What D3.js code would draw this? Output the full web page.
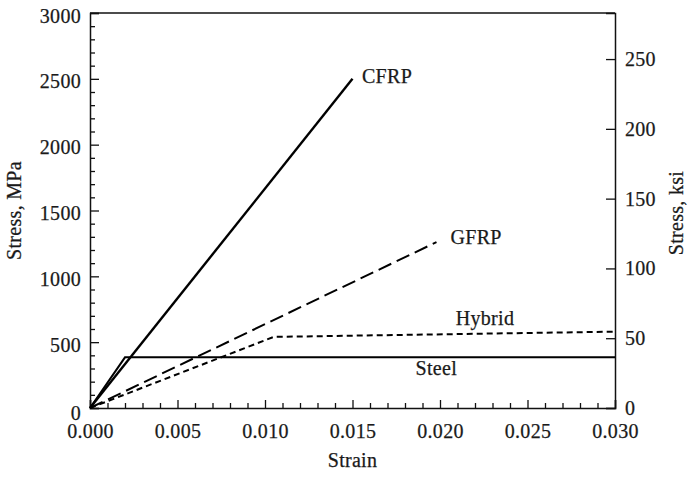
<!DOCTYPE html>
<html>
<head>
<meta charset="utf-8">
<script src="https://cdn.jsdelivr.net/npm/d3@7"></script>
<style>
  html, body { margin: 0; padding: 0; background: #fff; }
  svg { display: block; }
  text { font-family: "Liberation Serif", "DejaVu Serif", serif; fill: #1a1a1a; stroke: #1a1a1a; stroke-width: 0.25px; letter-spacing: 0.3px; }
</style>
</head>
<body>
<svg id="chart" width="687" height="477"></svg>
<script>
// ---- data ----
const cfrpStrain = [0, 0.015];
const cfrpStress = [0, 2500];
const gfrpStrain = [0, 0.0198];
const gfrpStress = [0, 1260];
const hybridStrain = [0, 0.0105, 0.030];
const hybridStress = [0, 540, 580];
const steelStrain = [0, 0.002, 0.030];
const steelStress = [0, 385, 385];

const xTicks = [0, 0.005, 0.010, 0.015, 0.020, 0.025, 0.030];
const yTicksMPa = [0, 500, 1000, 1500, 2000, 2500, 3000];
const yTicksKsi = [0, 50, 100, 150, 200, 250];

const seriesNames = ["CFRP", "GFRP", "Hybrid", "Steel"];
const labelStrain = [0.01554, 0.0206, 0.0209, 0.0186];
const labelStress = [2468, 1245, 630, 250];

// ---- layout ----
const svg = d3.select("#chart");
const L = 90, R = 615, T = 13, B = 408;
const x = d3.scaleLinear().domain([0, 0.030]).range([L, R]);
const y = d3.scaleLinear().domain([0, 3000]).range([B, T]);
const y2 = d3.scaleLinear().domain([0, 283]).range([B, T]);
const FS = 20;

// frame top
svg.append("line").attr("x1", L).attr("x2", R).attr("y1", T).attr("y2", T)
  .attr("stroke", "#111").attr("stroke-width", 1.5);

// left axis major
const gl = svg.append("g").attr("transform", `translate(${L},0)`)
  .call(d3.axisLeft(y).tickValues(yTicksMPa).tickSize(-9).tickPadding(9).tickFormat(d3.format("d")));
// left minor
svg.append("g").attr("transform", `translate(${L},0)`)
  .call(d3.axisLeft(y).tickValues(d3.range(0, 3001, 100).filter(v => v % 500 !== 0)).tickSize(-5).tickFormat(""))
  .call(g => g.select(".domain").remove());
gl.selectAll(".tick text").attr("dy", "0.45em").filter(d => d === 0).attr("dy", "0.55em");

// bottom axis
const gb = svg.append("g").attr("transform", `translate(0,${B})`)
  .call(d3.axisBottom(x).tickValues(xTicks).tickSize(-8).tickPadding(16).tickFormat(d3.format(".3f")));
svg.append("g").attr("transform", `translate(0,${B})`)
  .call(d3.axisBottom(x).tickValues(d3.range(0, 31).map(i => i / 1000).filter((v, i) => i % 5 !== 0)).tickSize(-5).tickFormat(""))
  .call(g => g.select(".domain").remove());

// right axis
const gr = svg.append("g").attr("transform", `translate(${R},0)`)
  .call(d3.axisRight(y2).tickValues(yTicksKsi).tickSize(-9).tickPadding(10).tickFormat(d3.format("d")));

svg.selectAll(".domain").attr("stroke", "#111").attr("stroke-width", 1.5);
svg.selectAll(".tick line").attr("stroke", "#111").attr("stroke-width", 1.3);
svg.selectAll(".tick text").style("font-family", '"Liberation Serif", serif').style("font-size", FS + "px").attr("fill", "#1a1a1a");

// axis titles
svg.append("text").attr("transform", "translate(21,210.5) rotate(-90)")
  .attr("text-anchor", "middle").style("font-size", FS + "px").text("Stress, MPa");
svg.append("text").attr("transform", "translate(683,213) rotate(-90)")
  .attr("text-anchor", "middle").style("font-size", FS + "px").text("Stress, ksi");
svg.append("text").attr("x", 352.5).attr("y", 467)
  .attr("text-anchor", "middle").style("font-size", FS + "px").text("Strain");

// series
const line = d3.line().x(d => x(d[0])).y(d => y(d[1]));
const series = [
  { s: cfrpStrain, v: cfrpStress, w: 2.4, dash: null },
  { s: gfrpStrain, v: gfrpStress, w: 2, dash: "14,6" },
  { s: hybridStrain, v: hybridStress, w: 2, dash: "6,4" },
  { s: steelStrain, v: steelStress, w: 2, dash: null }
];
series.forEach(sr => {
  svg.append("path")
    .datum(sr.s.map((d, i) => [d, sr.v[i]]))
    .attr("d", line)
    .attr("fill", "none")
    .attr("stroke", "#000")
    .attr("stroke-width", sr.w)
    .attr("stroke-dasharray", sr.dash);
});

// labels
seriesNames.forEach((n, i) => {
  svg.append("text").attr("x", x(labelStrain[i])).attr("y", y(labelStress[i]))
    .style("font-size", FS + "px").text(n);
});
</script>
</body>
</html>
